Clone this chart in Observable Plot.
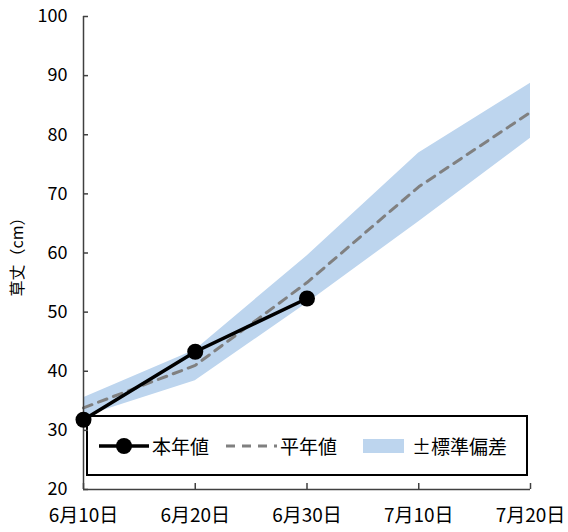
<!DOCTYPE html>
<html>
<head>
<meta charset="utf-8">
<script src="https://cdn.jsdelivr.net/npm/d3@7"></script>
<script src="https://cdn.jsdelivr.net/npm/@observablehq/plot@0.6"></script>
<style>
  body { margin: 0; background: white; font-family: "Noto Sans CJK JP", sans-serif; }
  #wrap { position: relative; width: 568px; height: 532px; }
  #legend { position: absolute; left: 86px; top: 415px; width: 438px; height: 57px;
            border: 2px solid #000; background: #fff; z-index: 0; }
  #legend .item { position: absolute; top: 0; height: 57px; display: flex; align-items: center;
                  font-size: 19px; color: #000; white-space: nowrap; }
  #chart { position: relative; z-index: 1; }
  #chart svg { background: transparent !important; }
</style>
</head>
<body>
<div id="wrap">
  <div id="legend"></div>
  <div id="chart"></div>
</div>
<script>
// ---- data ----
const dates = ["2023-06-10", "2023-06-20", "2023-06-30", "2023-07-10", "2023-07-20"];
const thisYear = [31.8, 43.3, 52.3];            // 本年値
const normalYear = [33.8, 41.0, 55.0, 71.2, 83.8]; // 平年値
const sdUpper = [35.5, 43.6, 59.5, 76.9, 88.7];  // 平年値 + 標準偏差
const sdLower = [32.3, 38.4, 51.5, 65.3, 79.4];  // 平年値 - 標準偏差
const yTicks = [20, 30, 40, 50, 60, 70, 80, 90, 100];
const seriesNames = ["本年値", "平年値", "±標準偏差"];
const yLabel = "草丈（cm）";

const parse = d3.utcParse("%Y-%m-%d");
const xDates = dates.map(parse);
const bandData = xDates.map((d, i) => ({date: d, lo: sdLower[i], hi: sdUpper[i]}));
const normalData = xDates.map((d, i) => ({date: d, v: normalYear[i]}));
const thisData = thisYear.map((v, i) => ({date: xDates[i], v}));
const fmt = d => `${d.getUTCMonth() + 1}月${d.getUTCDate()}日`;

const font = "Noto Sans CJK JP";
const plot = Plot.plot({
  width: 568,
  height: 532,
  marginLeft: 83,
  marginRight: 38,
  marginTop: 16,
  marginBottom: 43,
  style: {fontFamily: font, background: "transparent", color: "#000"},
  x: {type: "utc", domain: [xDates[0], xDates[xDates.length - 1]]},
  y: {domain: [20, 100]},
  marks: [
    Plot.areaY(bandData, {x: "date", y1: "lo", y2: "hi", fill: "#bdd5ee"}),
    Plot.lineY(normalData, {x: "date", y: "v", stroke: "#808080", strokeWidth: 3, strokeDasharray: "9,7"}),
    Plot.ruleX([xDates[0]], {stroke: "#404040", strokeWidth: 1.5}),
    Plot.ruleY([20], {stroke: "#404040", strokeWidth: 1.5}),
    Plot.axisY(yTicks, {tickSize: -5, tickPadding: 21, fontSize: 18, stroke: "#404040", strokeWidth: 1.5,
      label: null}),
    Plot.axisY({label: yLabel, ticks: [], tickSize: 0, labelAnchor: "center", labelOffset: 72, labelArrow: "none", fontSize: 16}),
    Plot.axisX(xDates, {tickSize: -6, tickPadding: 25, fontSize: 19, tickFormat: fmt, stroke: "#404040",
      strokeWidth: 1.5, label: null}),
    Plot.lineY(thisData, {x: "date", y: "v", stroke: "#000", strokeWidth: 3.5}),
    Plot.dot(thisData, {x: "date", y: "v", r: 8, fill: "#000"})
  ]
});
document.getElementById("chart").appendChild(plot);
plot.querySelectorAll("text").forEach(t => {
  if (t.textContent === yLabel) { t.setAttribute("font-size", 16); t.style.fontSize = "16px"; }
});

// ---- legend ----
const legend = document.getElementById("legend");
function addItem(left, swatchW, swatchSvg, text) {
  const div = document.createElement("div");
  div.className = "item";
  div.style.left = left + "px";
  div.innerHTML = `<svg width="${swatchW}" height="20" style="margin-right:3px">${swatchSvg}</svg><span>${text}</span>`;
  legend.appendChild(div);
}
addItem(11, 50, `<line x1="0" y1="10" x2="50" y2="10" stroke="#000" stroke-width="3.5"/><circle cx="25" cy="10" r="8" fill="#000"/>`, seriesNames[0]);
addItem(138, 51, `<line x1="0" y1="10" x2="51" y2="10" stroke="#808080" stroke-width="3" stroke-dasharray="9,7"/>`, seriesNames[1]);
addItem(275, 46, `<rect x="0" y="3" width="41" height="14" fill="#bdd5ee"/>`, seriesNames[2]);
</script>
</body>
</html>
